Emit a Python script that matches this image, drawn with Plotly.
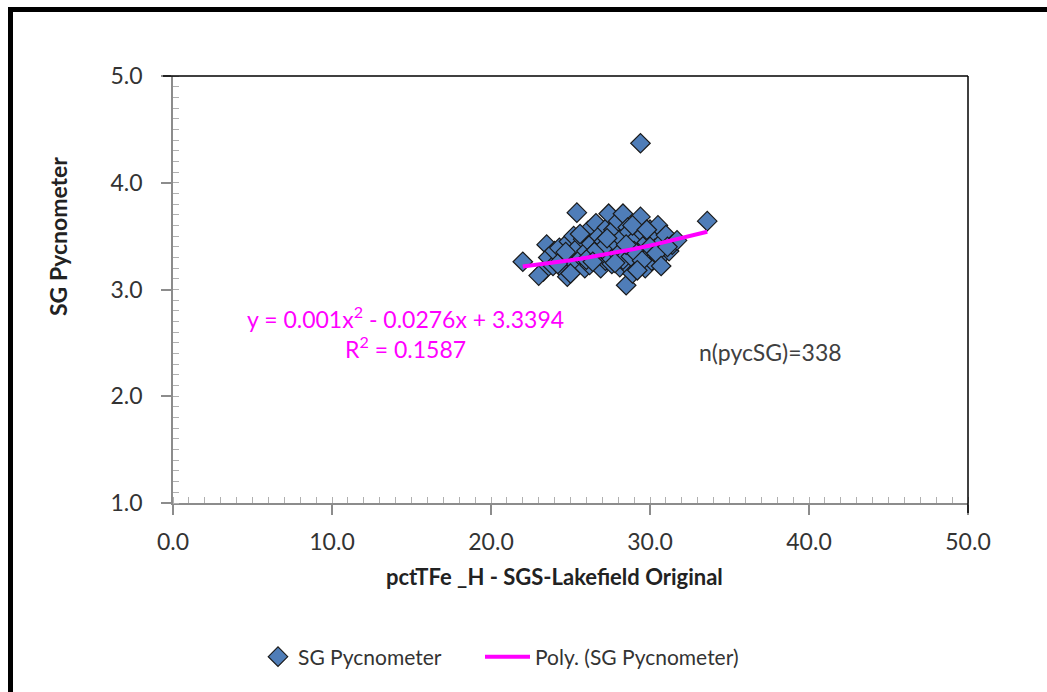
import plotly.graph_objects as go

# --- data ---
fe_pct = [22.0, 23.3, 23.5, 23.6, 23.9, 24.0, 24.3, 24.5, 24.6, 24.8, 24.9, 25.1, 25.2, 25.3, 25.4,
          25.5, 25.7, 25.8, 25.9, 26.0, 26.1, 26.2, 26.3, 26.5, 26.6, 26.7, 26.8, 26.9, 27.0, 27.1,
          27.2, 27.3, 27.4, 27.5, 27.6, 27.7, 27.8, 27.9, 28.0, 28.1, 28.2, 28.3, 28.4, 28.5, 28.5,
          28.6, 28.7, 28.7, 28.8, 28.9, 29.0, 29.1, 29.2, 29.3, 29.4, 29.4, 29.5, 29.6, 29.7, 29.8,
          29.9, 30.0, 30.1, 30.2, 30.3, 30.5, 30.6, 30.8, 31.0, 31.2, 31.4, 31.7, 33.6,
          23.0, 24.2, 25.0, 27.5, 28.0, 28.3, 28.8, 29.0, 27.0, 26.5, 29.5, 30.0, 28.5, 27.8,
          26.0, 25.6, 29.2, 30.4, 28.9, 27.3, 24.7, 26.4, 29.8, 31.1, 30.7]
sg_pyc = [3.26, 3.17, 3.42, 3.30, 3.22, 3.36, 3.39, 3.28, 3.18, 3.12, 3.45, 3.33, 3.50, 3.24, 3.72,
          3.40, 3.30, 3.47, 3.20, 3.36, 3.55, 3.23, 3.43, 3.29, 3.62, 3.38, 3.50, 3.20, 3.33, 3.45,
          3.27, 3.58, 3.71, 3.36, 3.24, 3.56, 3.42, 3.30, 3.64, 3.21, 3.48, 3.71, 3.35, 3.04, 3.27,
          3.58, 3.54, 3.21, 3.40, 3.15, 3.46, 3.31, 3.62, 3.25, 3.68, 4.37, 3.38, 3.52, 3.20, 3.44,
          3.33, 3.56, 3.27, 3.49, 3.38, 3.60, 3.30, 3.45, 3.51, 3.36, 3.42, 3.46, 3.64,
          3.13, 3.24, 3.15, 3.30, 3.33, 3.28, 3.31, 3.36, 3.38, 3.35, 3.27, 3.40, 3.42, 3.25,
          3.28, 3.52, 3.18, 3.34, 3.60, 3.48, 3.35, 3.26, 3.56, 3.40, 3.22]

# polynomial trend coefficients shown on the chart (a*x^2 + b*x + c)
poly_coef = [0.001, -0.0276, 3.3394]
trend_x = [22.0, 23.0, 24.0, 25.0, 26.0, 27.0, 28.0, 29.0, 30.0, 31.0, 32.0, 33.0, 33.6]

x_ticks = [0, 10, 20, 30, 40, 50]
y_ticks = [1, 2, 3, 4, 5]

trend_y = [poly_coef[0] * v * v + poly_coef[1] * v + poly_coef[2] for v in trend_x]

FONT = "Lato"
BLUE = "#4F7DB8"
MAG = "#FF00FF"

fig = go.Figure()
fig.add_trace(go.Scatter(
    x=fe_pct, y=sg_pyc, mode="markers", name="SG Pycnometer",
    marker=dict(symbol="diamond", size=15, color=BLUE,
                line=dict(color="#1a1a1a", width=1.2)),
    legend="legend",
))
fig.add_trace(go.Scatter(
    x=trend_x, y=trend_y, mode="lines", name="Poly. (SG Pycnometer)",
    line=dict(color=MAG, width=4),
    legend="legend2",
))

axis_common = dict(
    showgrid=False, zeroline=False, showline=True, linecolor="#8c8c8c", linewidth=1.5,
    ticks="outside", ticklen=10, tickcolor="#8c8c8c", tickwidth=1.5,
    tickfont=dict(family=FONT, size=23, color="#333333"),
)

fig.update_xaxes(
    range=[0, 50], tickvals=x_ticks, ticktext=[f"{v:.1f}" for v in x_ticks],
    minor=dict(dtick=1, ticks="inside", ticklen=6, tickcolor="#b0b0b0", tickwidth=1),
    ticklabelstandoff=8,
    **axis_common,
)
fig.update_yaxes(
    range=[1, 5], tickvals=y_ticks, ticktext=[f"{v:.1f}" for v in y_ticks],
    minor=dict(dtick=0.1, ticks="inside", ticklen=6, tickcolor="#b0b0b0", tickwidth=1),
    ticklabelstandoff=14,
    **axis_common,
)

W, H = 1047, 692
ML, MR, MT, MB = 173, 79, 76, 189
PW, PH = W - ML - MR, H - MT - MB


def px_x(p):
    return (p - ML) / PW


def px_y(p):
    return (H - MB - p) / PH


legend_font = dict(family=FONT, size=21, color="#333333")

fig.update_layout(
    width=W, height=H,
    margin=dict(l=ML, r=MR, t=MT, b=MB),
    paper_bgcolor="white", plot_bgcolor="white",
    showlegend=True,
    legend=dict(orientation="h", x=px_x(258), xanchor="left", y=px_y(657), yanchor="middle",
                font=legend_font, bgcolor="rgba(0,0,0,0)"),
    legend2=dict(orientation="h", x=px_x(480), xanchor="left", y=px_y(657), yanchor="middle",
                 font=legend_font, bgcolor="rgba(0,0,0,0)", itemwidth=45),
    shapes=[
        # outer frame (left/top visible, right/bottom beyond the canvas)
        dict(type="rect", xref="paper", yref="paper", x0=px_x(10.5), x1=1.3, y0=-0.8, y1=px_y(9.5),
             line=dict(color="black", width=5), fillcolor="rgba(0,0,0,0)", layer="above"),
        # plot area top and right borders
        dict(type="line", xref="paper", yref="paper", x0=px_x(163), x1=1.0, y0=1.0, y1=1.0,
             line=dict(color="black", width=1.5)),
        dict(type="line", xref="paper", yref="paper", x0=1.0, x1=1.0, y0=px_y(513), y1=1.0,
             line=dict(color="black", width=1.5)),
    ],
    annotations=[
        # axis titles
        dict(xref="paper", yref="paper", x=px_x(554), y=px_y(576), showarrow=False,
             text="<b>pctTFe _H - SGS-Lakefield Original</b>",
             font=dict(family=FONT, size=22, color="#222222"), xanchor="center", yanchor="middle"),
        dict(xref="paper", yref="paper", x=px_x(58), y=px_y(237), showarrow=False, textangle=-90,
             text="<b>SG Pycnometer</b>",
             font=dict(family=FONT, size=23, color="#222222"), xanchor="center", yanchor="middle"),
        # trendline equation
        dict(xref="paper", yref="paper", x=px_x(405), y=px_y(332), showarrow=False, align="center",
             text="y = 0.001x<sup>2</sup> - 0.0276x + 3.3394<br>R<sup>2</sup> = 0.1587",
             font=dict(family=FONT, size=23, color=MAG), xanchor="center", yanchor="middle"),
        # sample count
        dict(xref="paper", yref="paper", x=px_x(770), y=px_y(352), showarrow=False,
             text="n(pycSG)=338",
             font=dict(family=FONT, size=23, color="#404040"), xanchor="center", yanchor="middle"),
    ],
)

fig.write_html("out.html")
